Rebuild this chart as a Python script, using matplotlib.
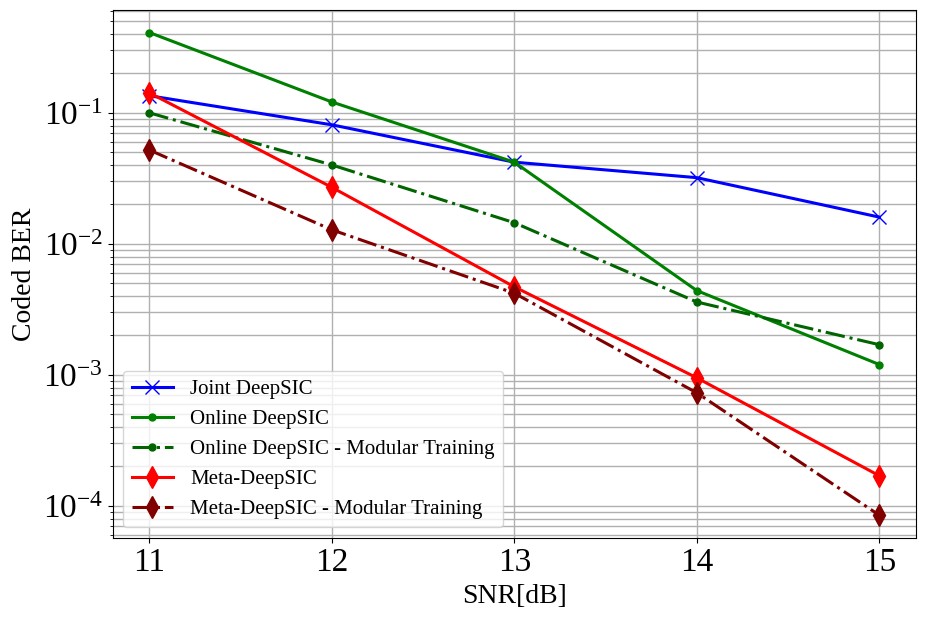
import matplotlib.pyplot as plt

plt.rcParams['font.family'] = ['Liberation Serif', 'DejaVu Serif']
plt.rcParams['mathtext.fontset'] = 'stix'

snr = [11, 12, 13, 14, 15]

joint_deepsic = [0.135, 0.081, 0.042, 0.032, 0.016]
online_deepsic = [0.41, 0.121, 0.042, 0.0044, 0.0012]
online_modular = [0.1, 0.040, 0.0145, 0.0036, 0.0017]
meta_deepsic = [0.142, 0.027, 0.0047, 0.00095, 0.00017]
meta_modular = [0.052, 0.0128, 0.0042, 0.00073, 0.000085]

fig, ax = plt.subplots(figsize=(9.25, 6.19), dpi=100)

ax.plot(snr, joint_deepsic, color='blue', marker='x', markersize=10, linewidth=2.2, label='Joint DeepSIC')
ax.plot(snr, online_deepsic, color='green', marker='.', markersize=10, linewidth=2.2, label='Online DeepSIC')
ax.plot(snr, online_modular, color='darkgreen', marker='.', markersize=10, linewidth=2.2,
        linestyle='-.', label='Online DeepSIC - Modular Training')
ax.plot(snr, meta_deepsic, color='red', marker='d', markersize=11, linewidth=2.2, label='Meta-DeepSIC')
ax.plot(snr, meta_modular, color='maroon', marker='d', markersize=11, linewidth=2.2,
        linestyle='-.', label='Meta-DeepSIC - Modular Training')

ax.set_yscale('log')
ax.set_ylim(5.7e-5, 0.61)
ax.set_xticks(snr)
ax.tick_params(axis='both', which='major', labelsize=24)
ax.set_xlabel('SNR[dB]', fontsize=20)
ax.set_ylabel('Coded BER', fontsize=20)
ax.grid(True, which='both', color='#b0b0b0', linewidth=1)
ax.legend(loc='lower left', fontsize=15)

plt.subplots_adjust(left=0.122, right=0.99, top=0.984, bottom=0.131)
plt.savefig('out.png')
